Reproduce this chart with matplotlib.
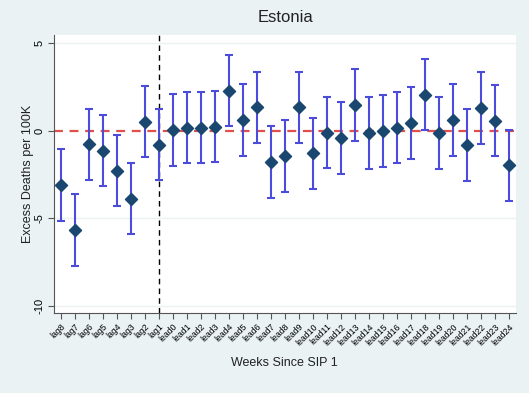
import matplotlib
matplotlib.use("Agg")
from matplotlib import pyplot as plt
import numpy as np

plt.rcParams['font.family'] = ['Liberation Sans', 'DejaVu Sans']

# event-time labels, lags then leads
labels = ['lag%d' % i for i in range(8, 0, -1)] + ['lead%d' % i for i in range(0, 25)]

estimate = [-3.10, -5.68, -0.78, -1.14, -2.29, -3.92, 0.51, -0.82,
            0.04, 0.15, 0.15, 0.23, 2.27, 0.59, 1.33, -1.81, -1.43,
            1.33, -1.30, -0.11, -0.44, 1.47, -0.15, 0.00, 0.17, 0.42,
            2.06, -0.15, 0.61, -0.84, 1.28, 0.57, -1.98]
ci_low = [-5.14, -7.71, -2.80, -3.18, -4.29, -5.92, -1.52, -2.82,
          -2.00, -1.87, -1.87, -1.81, 0.25, -1.43, -0.72, -3.83, -3.50,
          -0.70, -3.33, -2.15, -2.48, -0.59, -2.17, -2.06, -1.87, -1.60,
          0.02, -2.17, -1.43, -2.86, -0.76, -1.47, -4.02]
ci_high = [-1.05, -3.64, 1.26, 0.90, -0.23, -1.87, 2.53, 1.24,
           2.11, 2.21, 2.21, 2.25, 4.32, 2.65, 3.37, 0.25, 0.61,
           3.37, 0.74, 1.94, 1.64, 3.52, 1.92, 2.06, 2.23, 2.48,
           4.08, 1.92, 2.65, 1.22, 3.33, 2.63, 0.04]

bg = '#eaf2f3'
x = np.arange(len(labels))
est = np.array(estimate)
err = np.vstack([est - np.array(ci_low), np.array(ci_high) - est])

fig = plt.figure(figsize=(5.29, 3.93), dpi=100, facecolor=bg)
ax = fig.add_axes([0.102, 0.2036, 0.873, 0.7074])
ax.set_facecolor('white')

for yv in [5, -5, -10]:
    ax.axhline(yv, color=bg, lw=1.0, zorder=0)

ax.axhline(0, color='#e0504a', lw=1.6, ls=(0, (4, 3)), zorder=1)
ax.axvline(labels.index('lag1'), color='black', lw=1.0, ls=(0, (4, 3)), zorder=1)

ax.errorbar(x, est, yerr=err, fmt='none', ecolor='#4c4cdc', elinewidth=1.5,
            capsize=3, capthick=1.5, zorder=2)
ax.scatter(x, est, marker='D', s=38, color='#1a476f', zorder=3)

ax.set_xlim(-0.48, 32.5)
ax.set_ylim(-10.42, 5.47)
ax.set_yticks([5, 0, -5, -10])
ax.set_yticklabels(['5', '0', '-5', '-10'], rotation=90, va='center', fontsize=8)
ax.set_xticks(x)
ax.set_xticklabels(labels, rotation=45, ha='right', rotation_mode='anchor', fontsize=6.3)
ax.tick_params(axis='both', color='#555555', length=4.5, width=0.8, pad=2)

for side in ['top', 'right']:
    ax.spines[side].set_visible(False)
for side in ['left', 'bottom']:
    ax.spines[side].set_color('#555555')
    ax.spines[side].set_linewidth(0.8)

ax.set_ylabel('Excess Deaths per 100K', fontsize=9, color='#222222', labelpad=1)
ax.set_xlabel('Weeks Since SIP 1', fontsize=9, color='#222222', labelpad=7)
fig.text(0.54, 0.955, 'Estonia', ha='center', va='center', fontsize=12, color='#222222')

fig.savefig('out.png', dpi=100, facecolor=bg)
